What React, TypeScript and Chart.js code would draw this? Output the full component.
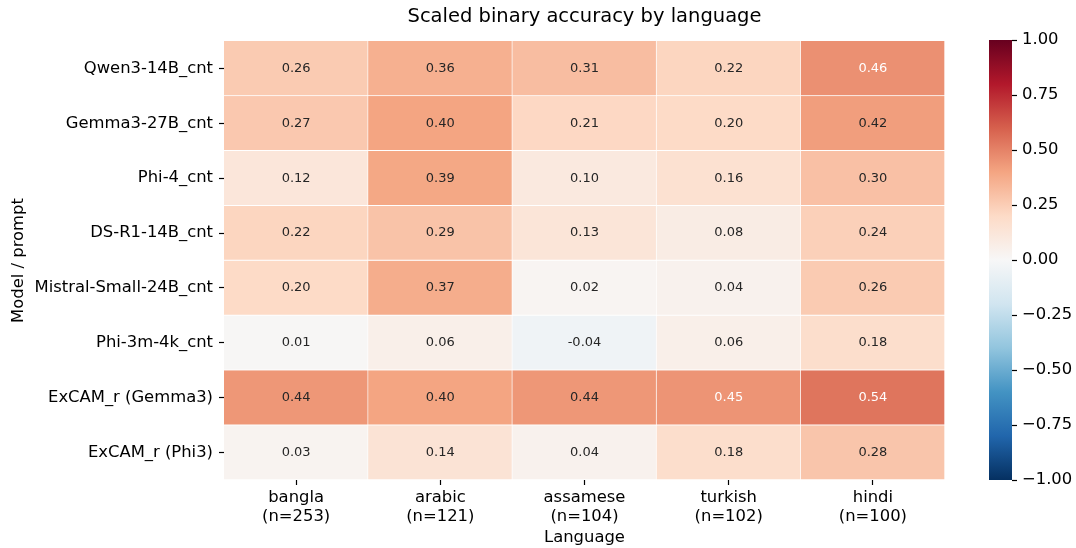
import React, { useEffect, useRef } from 'react';
import { Chart, registerables } from 'chart.js';

Chart.register(...registerables);

const FONT = '"DejaVu Sans", "Liberation Sans", sans-serif';

const models = [
  'Qwen3-14B_cnt',
  'Gemma3-27B_cnt',
  'Phi-4_cnt',
  'DS-R1-14B_cnt',
  'Mistral-Small-24B_cnt',
  'Phi-3m-4k_cnt',
  'ExCAM_r (Gemma3)',
  'ExCAM_r (Phi3)',
];

const languages = [
  ['bangla', '(n=253)'],
  ['arabic', '(n=121)'],
  ['assamese', '(n=104)'],
  ['turkish', '(n=102)'],
  ['hindi', '(n=100)'],
];

const qwen3 = [0.26, 0.36, 0.31, 0.22, 0.46];
const gemma3 = [0.27, 0.4, 0.21, 0.2, 0.42];
const phi4 = [0.12, 0.39, 0.1, 0.16, 0.3];
const dsR1 = [0.22, 0.29, 0.13, 0.08, 0.24];
const mistral = [0.2, 0.37, 0.02, 0.04, 0.26];
const phi3m = [0.01, 0.06, -0.04, 0.06, 0.18];
const excamGemma = [0.44, 0.4, 0.44, 0.45, 0.54];
const excamPhi = [0.03, 0.14, 0.04, 0.18, 0.28];

const rows = [qwen3, gemma3, phi4, dsR1, mistral, phi3m, excamGemma, excamPhi];

const colorbarTicks = [-1, -0.75, -0.5, -0.25, 0, 0.25, 0.5, 0.75, 1];

// RdBu_r colormap stops (from -1 to +1)
const RDBU_R = [
  [5, 48, 97],
  [33, 102, 172],
  [67, 147, 195],
  [146, 197, 222],
  [209, 229, 240],
  [247, 247, 247],
  [253, 219, 199],
  [244, 165, 130],
  [214, 96, 77],
  [178, 24, 43],
  [103, 0, 31],
];

function cmapRGB(v: number): number[] {
  const t = Math.min(1, Math.max(0, (v + 1) / 2)) * (RDBU_R.length - 1);
  const i = Math.min(RDBU_R.length - 2, Math.floor(t));
  const f = t - i;
  const a = RDBU_R[i];
  const b = RDBU_R[i + 1];
  return [0, 1, 2].map((k) => a[k] + (b[k] - a[k]) * f);
}

function cmap(v: number): string {
  const [r, g, b] = cmapRGB(v);
  return `rgb(${Math.round(r)}, ${Math.round(g)}, ${Math.round(b)})`;
}

function textColor(v: number): string {
  const lin = cmapRGB(v).map((c) => {
    const s = c / 255;
    return s <= 0.03928 ? s / 12.92 : Math.pow((s + 0.055) / 1.055, 2.4);
  });
  const lum = 0.2126 * lin[0] + 0.7152 * lin[1] + 0.0722 * lin[2];
  return lum > 0.408 ? '#262626' : '#ffffff';
}

const cellLabels = {
  id: 'cellLabels',
  afterDatasetsDraw(chart: any) {
    const ctx = chart.ctx;
    ctx.save();
    ctx.font = `13px ${FONT}`;
    ctx.textAlign = 'center';
    ctx.textBaseline = 'middle';
    chart.data.datasets.forEach((ds: any, i: number) => {
      const meta = chart.getDatasetMeta(i);
      meta.data.forEach((el: any, j: number) => {
        const v = ds.values[j];
        const p = el.getCenterPoint();
        ctx.fillStyle = textColor(v);
        ctx.fillText(v.toFixed(2), p.x, p.y);
      });
    });
    ctx.restore();
  },
};

function fmtMinus(v: number): string {
  const s = v.toFixed(2);
  return v < 0 ? '\u2212' + s.slice(1) : s;
}

export default function App() {
  const mainRef = useRef<HTMLCanvasElement>(null);
  const barRef = useRef<HTMLCanvasElement>(null);

  useEffect(() => {
    const tickFont = { family: FONT, size: 16.4 };
    const main = new Chart(mainRef.current as HTMLCanvasElement, {
      type: 'bar',
      data: {
        labels: languages as any,
        datasets: rows.map((vals, i) => ({
          label: models[i],
          values: vals,
          data: vals.map(() => [i, i + 1]),
          backgroundColor: vals.map((v) => cmap(v)),
          borderColor: '#ffffff',
          borderWidth: { top: 0, left: 0, right: 1, bottom: 1 },
          borderSkipped: false,
          barPercentage: 1,
          categoryPercentage: 1,
          grouped: false,
        })) as any,
      },
      options: {
        animation: false,
        responsive: false,
        layout: { padding: { left: 0, right: 15, top: 0, bottom: 0 } },
        plugins: {
          legend: { display: false },
          tooltip: { enabled: false },
        },
        scales: {
          x: {
            type: 'category',
            position: 'bottom',
            offset: true,
            grid: {
              display: true,
              drawOnChartArea: false,
              offset: false,
              tickLength: 5,
              tickWidth: 1.2,
              tickColor: '#000000',
            },
            border: { display: false },
            ticks: {
              color: '#000000',
              font: { ...tickFont, lineHeight: 1.15 },
              padding: 3,
              maxRotation: 0,
              autoSkip: false,
            },
            title: {
              display: true,
              text: 'Language',
              color: '#000000',
              font: { ...tickFont, lineHeight: 1.15 },
              padding: { top: 0, bottom: 1 },
            },
            afterFit: (s: any) => {
              s.height = 68;
            },
          },
          x2: {
            type: 'category',
            position: 'top',
            labels: [''],
            grid: { display: false },
            border: { display: false },
            ticks: { display: false },
            title: {
              display: true,
              text: 'Scaled binary accuracy by language',
              color: '#000000',
              font: { family: FONT, size: 19.5 },
              padding: { top: 5, bottom: 0 },
            },
            afterFit: (s: any) => {
              s.height = 41;
            },
          },
          y: {
            type: 'linear',
            min: 0,
            max: rows.length,
            reverse: true,
            afterBuildTicks: (s: any) => {
              s.ticks = models.map((_, i) => ({ value: i + 0.5 }));
            },
            grid: {
              display: true,
              drawOnChartArea: false,
              tickLength: 5,
              tickWidth: 1.2,
              tickColor: '#000000',
            },
            border: { display: false },
            ticks: {
              color: '#000000',
              font: tickFont,
              padding: 6,
              autoSkip: false,
              callback: (_v: any, index: number) => models[index],
            },
            title: {
              display: true,
              text: 'Model / prompt',
              color: '#000000',
              font: { ...tickFont, lineHeight: 1.15 },
              padding: { top: 9, bottom: 0 },
            },
            afterFit: (s: any) => {
              s.width = 224;
            },
          },
        },
      } as any,
      plugins: [cellLabels],
    });

    const bar = new Chart(barRef.current as HTMLCanvasElement, {
      type: 'bar',
      data: {
        labels: [''],
        datasets: [
          {
            data: [[-1, 1]] as any,
            backgroundColor: (c: any) => {
              const chart = c.chart;
              const ys = chart.scales && chart.scales.y;
              if (!ys) return '#f7f7f7';
              const y0 = ys.getPixelForValue(-1);
              const y1 = ys.getPixelForValue(1);
              if (!isFinite(y0) || !isFinite(y1) || y0 === y1) return '#f7f7f7';
              const g = chart.ctx.createLinearGradient(0, y0, 0, y1);
              RDBU_R.forEach((col, k) => {
                g.addColorStop(k / (RDBU_R.length - 1), `rgb(${col[0]}, ${col[1]}, ${col[2]})`);
              });
              return g;
            },
            borderWidth: 0,
            barPercentage: 1,
            categoryPercentage: 1,
          },
        ],
      },
      options: {
        animation: false,
        responsive: false,
        layout: { padding: { left: 29, right: 0, top: 40, bottom: 68 } },
        plugins: {
          legend: { display: false },
          tooltip: { enabled: false },
        },
        scales: {
          x: { display: false },
          y: {
            type: 'linear',
            position: 'right',
            min: -1,
            max: 1,
            afterBuildTicks: (s: any) => {
              s.ticks = colorbarTicks.map((v) => ({ value: v }));
            },
            grid: {
              display: true,
              drawOnChartArea: false,
              tickLength: 5,
              tickWidth: 1.2,
              tickColor: '#000000',
            },
            border: { display: false },
            ticks: {
              color: '#000000',
              font: { family: FONT, size: 16.4 },
              padding: 5,
              callback: (v: any) => fmtMinus(Number(v)),
            },
            afterFit: (s: any) => {
              s.width = 64;
            },
          },
        },
      } as any,
    });

    return () => {
      main.destroy();
      bar.destroy();
    };
  }, []);

  return (
    <div
      style={{
        position: 'fixed',
        left: 0,
        top: 0,
        width: 1076,
        height: 548,
        background: '#ffffff',
        overflow: 'hidden',
      }}
    >
      <canvas
        ref={mainRef}
        width={960}
        height={548}
        style={{ position: 'absolute', left: 0, top: 0, width: 960, height: 548 }}
      />
      <canvas
        ref={barRef}
        width={116}
        height={548}
        style={{ position: 'absolute', left: 960, top: 0, width: 116, height: 548 }}
      />
    </div>
  );
}
